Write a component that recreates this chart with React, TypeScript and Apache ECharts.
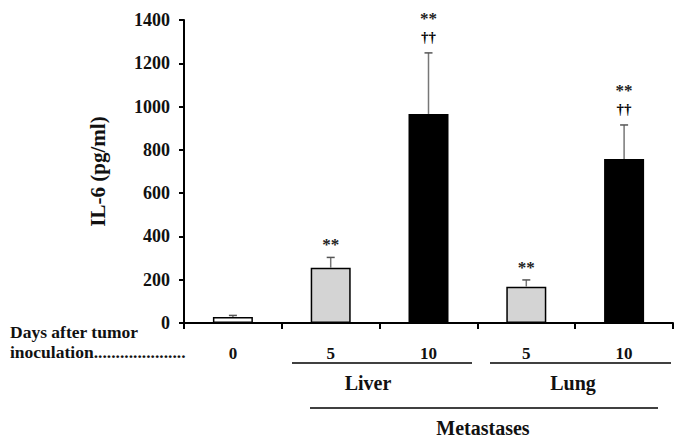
import React, { useEffect, useRef } from "react";
import * as echarts from "echarts";

const categories = ["0", "5", "10", "5", "10"];
const means = [28, 255, 966, 168, 758];
const errors = [7, 48, 282, 31, 157];
const stars = ["", "**", "**", "**", "**"];
const daggers = ["", "", "††", "", "††"];
const yMin = 0;
const yMax = 1400;
const yInterval = 200;

const FONT = "'Liberation Serif', 'Times New Roman', serif";
const dayFill: Record<string, string> = { "0": "#ffffff", "5": "#d4d4d4", "10": "#000000" };

export default function App() {
  const ref = useRef<HTMLDivElement>(null);
  useEffect(() => {
    if (!ref.current) return;
    const chart = echarts.init(ref.current, null, { renderer: "svg" });
    chart.setOption({
      animation: false,
      backgroundColor: "#ffffff",
      grid: { left: 184, right: 1, top: 20, bottom: 117 },
      xAxis: {
        type: "category",
        data: categories,
        boundaryGap: true,
        axisLine: { lineStyle: { color: "#000", width: 2 } },
        axisTick: { show: true, length: 6, lineStyle: { color: "#000", width: 2 } },
        axisLabel: { margin: 22, color: "#111", fontFamily: FONT, fontWeight: "bold", fontSize: 17 },
      },
      yAxis: {
        type: "value",
        min: yMin,
        max: yMax,
        interval: yInterval,
        name: "IL-6 (pg/ml)",
        nameLocation: "middle",
        nameGap: 76,
        nameTextStyle: { color: "#111", fontFamily: FONT, fontWeight: "bold", fontSize: 21 },
        splitLine: { show: false },
        axisLine: { show: true, lineStyle: { color: "#000", width: 2 } },
        axisTick: { show: true, length: 5, lineStyle: { color: "#000", width: 2 } },
        axisLabel: {
          margin: 14,
          color: "#111",
          fontFamily: FONT,
          fontWeight: "bold",
          fontSize: 18,
          formatter: (v: number) => String(v),
        },
      },
      series: [
        {
          type: "bar",
          barWidth: 40,
          data: means.map((v, i) => ({
            value: v,
            itemStyle: { color: dayFill[categories[i]], borderColor: "#000", borderWidth: 1.5 },
          })),
        },
        {
          type: "custom",
          data: means.map((v, i) => [i, v, errors[i]]),
          z: 5,
          renderItem: (params: any, api: any) => {
            const i = params.dataIndex;
            const x = api.value(0);
            const v = api.value(1);
            const e = api.value(2);
            const p0 = api.coord([x, v]);
            const p1 = api.coord([x, v + e]);
            const children: any[] = [
              { type: "line", shape: { x1: p0[0], y1: p0[1], x2: p1[0], y2: p1[1] }, style: { stroke: "#777", lineWidth: 1.5 } },
              { type: "line", shape: { x1: p1[0] - 4, y1: p1[1], x2: p1[0] + 4, y2: p1[1] }, style: { stroke: "#555", lineWidth: 1.5 } },
            ];
            let top = p1[1];
            if (daggers[i]) {
              children.push({
                type: "text",
                style: { text: daggers[i], x: p1[0], y: top - 8, align: "center", verticalAlign: "bottom", fill: "#000", font: `bold 15px ${FONT}` },
              });
              top -= 22;
            }
            if (stars[i]) {
              children.push({
                type: "text",
                style: { text: stars[i], x: p1[0], y: top - 4, align: "center", verticalAlign: "bottom", fill: "#222", font: `bold 17px ${FONT}` },
              });
            }
            return { type: "group", children };
          },
        },
      ],
      graphic: [
        { type: "text", left: 10, top: 323, style: { text: "Days after tumor", fill: "#111", font: `bold 17.5px ${FONT}` } },
        { type: "text", left: 10, top: 343, style: { text: "inoculation.....................", fill: "#111", font: `bold 17.5px ${FONT}` } },
        { type: "line", shape: { x1: 292, y1: 363, x2: 472, y2: 363 }, style: { stroke: "#000", lineWidth: 1.5 } },
        { type: "line", shape: { x1: 490, y1: 363, x2: 671, y2: 363 }, style: { stroke: "#000", lineWidth: 1.5 } },
        { type: "text", x: 368, y: 383, style: { text: "Liver", align: "center", verticalAlign: "middle", fill: "#111", font: `bold 20px ${FONT}` } },
        { type: "text", x: 573, y: 383, style: { text: "Lung", align: "center", verticalAlign: "middle", fill: "#111", font: `bold 20px ${FONT}` } },
        { type: "line", shape: { x1: 310, y1: 408, x2: 658, y2: 408 }, style: { stroke: "#000", lineWidth: 1.5 } },
        { type: "text", x: 483, y: 428, style: { text: "Metastases", align: "center", verticalAlign: "middle", fill: "#111", font: `bold 20px ${FONT}` } },
      ],
    });
    return () => chart.dispose();
  }, []);
  return <div ref={ref} style={{ width: 674, height: 440, position: "absolute", left: 0, top: 0 }} />;
}
